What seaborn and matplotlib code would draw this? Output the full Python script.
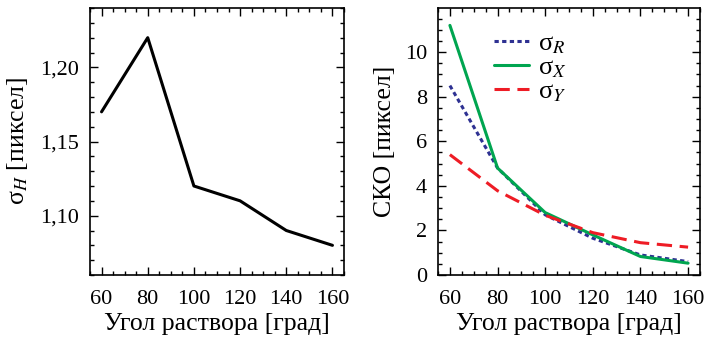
import numpy as np
import pandas as pd
import seaborn as sns
import matplotlib
matplotlib.use('Agg')
import matplotlib.pyplot as plt
from matplotlib.ticker import MultipleLocator, FuncFormatter

# data
angles = [60, 80, 100, 120, 140, 160]
sigma_h = [1.17, 1.22, 1.12, 1.11, 1.09, 1.08]
sigma_r = [8.5, 4.8, 2.7, 1.65, 0.9, 0.6]
sigma_x = [11.2, 4.8, 2.8, 1.8, 0.83, 0.53]
sigma_y = [5.4, 3.78, 2.68, 1.9, 1.45, 1.25]

sns.set_style('ticks')
plt.rcParams['font.family'] = ['Liberation Serif', 'DejaVu Serif']
plt.rcParams['mathtext.fontset'] = 'stix'
for k in ('text.color', 'axes.labelcolor', 'xtick.color', 'ytick.color', 'axes.edgecolor'):
    plt.rcParams[k] = 'black'

fig = plt.figure(figsize=(7.06, 3.44), dpi=100)
ax1 = fig.add_axes([90 / 706, 69 / 344, 254 / 706, 267 / 344])
ax2 = fig.add_axes([438 / 706, 69 / 344, 262 / 706, 267 / 344])

df_h = pd.DataFrame({'angle': angles, 'val': sigma_h})
sns.lineplot(data=df_h, x='angle', y='val', color='black', lw=2.2, ax=ax1)

df = pd.DataFrame({
    'angle': angles * 3,
    'val': sigma_r + sigma_x + sigma_y,
    'series': ['σ$_R$'] * 6 + ['σ$_X$'] * 6 + ['σ$_Y$'] * 6,
})
colors = {'σ$_R$': '#2e3192', 'σ$_X$': '#00a550', 'σ$_Y$': '#ee1c25'}
dashes = {'σ$_R$': (1.4, 1.1), 'σ$_X$': '', 'σ$_Y$': (5, 2.5)}
sns.lineplot(data=df, x='angle', y='val', hue='series', style='series',
             palette=colors, dashes=dashes, lw=2.2, ax=ax2)

ax1.set_xlim(55, 165)
ax1.set_ylim(1.06, 1.24)
ax1.yaxis.set_major_locator(MultipleLocator(0.05))
ax1.yaxis.set_minor_locator(MultipleLocator(0.01))
ax1.yaxis.set_major_formatter(FuncFormatter(lambda v, p: f'{v:.2f}'.replace('.', ',')))
ax1.set_ylabel('σ$_H$ [пиксел]', fontsize=18.5, labelpad=7)

ax2.set_xlim(55, 165)
ax2.set_ylim(0, 11.98)
ax2.yaxis.set_major_locator(MultipleLocator(2))
ax2.yaxis.set_minor_locator(MultipleLocator(0.5))
ax2.set_ylabel('СКО [пиксел]', fontsize=18.5, labelpad=6)

for ax in (ax1, ax2):
    ax.xaxis.set_major_locator(MultipleLocator(20))
    ax.xaxis.set_minor_locator(MultipleLocator(5))
    ax.set_xlabel('Угол раствора [град]', fontsize=18.5, labelpad=3)
    ax.tick_params(which='both', direction='in', top=True, right=True, width=1.0)
    ax.tick_params(which='major', length=6, labelsize=16)
    ax.tick_params(which='minor', length=3)
    ax.tick_params(axis='x', which='major', pad=11)
    ax.tick_params(axis='y', which='major', pad=8)
    for s in ax.spines.values():
        s.set_linewidth(1.2)

leg = ax2.legend(loc='upper left', bbox_to_anchor=(0.215, 0.91), frameon=False,
                 fontsize=19, handlelength=1.3, labelspacing=0.0, borderaxespad=0,
                 borderpad=0, handletextpad=0.35)
for line in leg.get_lines():
    line.set_linewidth(2.2)

fig.savefig('out.png', dpi=100)
